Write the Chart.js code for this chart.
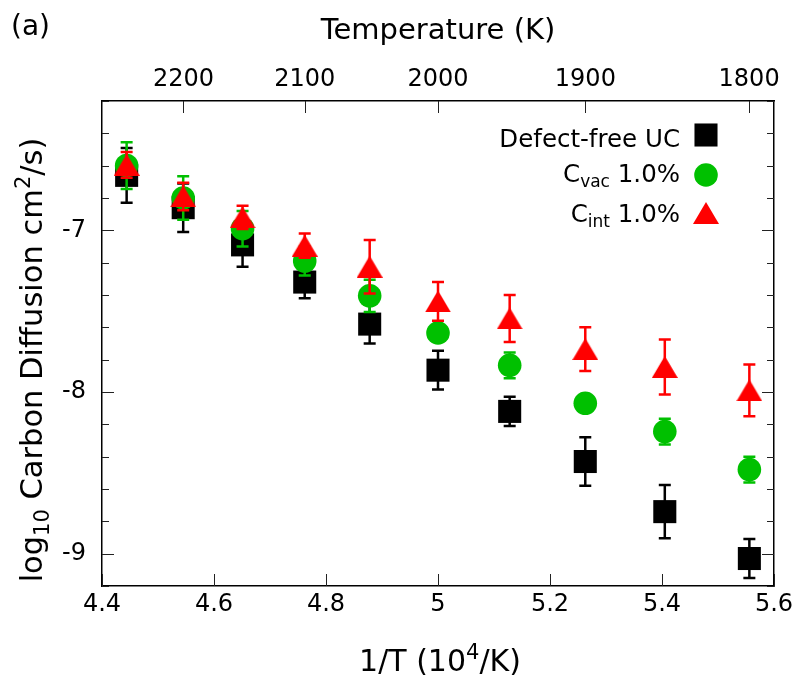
<!DOCTYPE html>
<html>
<head>
<meta charset="utf-8">
<script src="https://cdn.jsdelivr.net/npm/chart.js@4.4.0/dist/chart.umd.min.js"></script>
<style>
  html, body { margin: 0; padding: 0; background: #fff; }
  canvas { display: block; }
</style>
</head>
<body>
<canvas id="chart" width="793" height="683"></canvas>
<script>
// 1/T in 10^4/K (T = 2250 ... 1800 K)
const invT = [4.444, 4.545, 4.651, 4.762, 4.878, 5.0, 5.128, 5.263, 5.405, 5.556];

// log10 D (cm^2/s) and error bars
const freeVals = [-6.66, -6.86, -7.09, -7.32, -7.58, -7.865, -8.12, -8.43, -8.74, -9.03];
const freeErr  = [0.17, 0.15, 0.135, 0.10, 0.12, 0.12, 0.09, 0.15, 0.165, 0.12];
const vacVals  = [-6.60, -6.80, -6.99, -7.19, -7.405, -7.635, -7.835, -8.07, -8.245, -8.48];
const vacErr   = [0.145, 0.135, 0.11, 0.09, 0.10, 0.05, 0.08, 0.04, 0.08, 0.08];
const intVals  = [-6.595, -6.79, -6.92, -7.095, -7.225, -7.44, -7.545, -7.735, -7.845, -7.99];
const intErr   = [0.08, 0.085, 0.072, 0.075, 0.165, 0.12, 0.145, 0.135, 0.17, 0.16];

// ticks
const xTicks = [4.4, 4.6, 4.8, 5.0, 5.2, 5.4, 5.6];
const tempTicks = [2200, 2100, 2000, 1900, 1800];
const yTickLabels = [-9, -8, -7];

const seriesLabels = ['Defect-free UC', 'C_{vac} 1.0%', 'C_{int} 1.0%'];
const xTitle = '1/T (10^{4}/K)';
const yTitle = 'log_{10} Carbon Diffusion cm^{2}/s)';

const FONT = 'DejaVu Sans';
Chart.defaults.font.family = FONT;
Chart.defaults.color = '#000';

// filled triangle centred on its point
const tri = document.createElement('canvas');
tri.width = 26; tri.height = 22;
(function () {
  const c = tri.getContext('2d');
  c.fillStyle = '#ff0000';
  c.beginPath();
  c.moveTo(0, 22); c.lineTo(13, 0); c.lineTo(26, 22);
  c.closePath();
  c.fill();
})();

function pts(vals) {
  return invT.map((x, i) => ({ x: x, y: vals[i] }));
}

// error bars drawn right after each dataset
const errorBars = {
  id: 'errorBars',
  afterDatasetDraw(chart, args) {
    const ds = chart.data.datasets[args.index];
    if (!ds.errors) return;
    const ctx = chart.ctx;
    const ys = chart.scales.y;
    ctx.save();
    ctx.strokeStyle = ds.errColor;
    ctx.lineWidth = 2.5;
    args.meta.data.forEach((p, i) => {
      const v = ds.data[i].y, e = ds.errors[i];
      const t = ys.getPixelForValue(v + e), b = ys.getPixelForValue(v - e);
      ctx.beginPath();
      ctx.moveTo(p.x, t); ctx.lineTo(p.x, b);
      ctx.moveTo(p.x - 6, t); ctx.lineTo(p.x + 6, t);
      ctx.moveTo(p.x - 6, b); ctx.lineTo(p.x + 6, b);
      ctx.stroke();
    });
    ctx.restore();
  }
};

// tick marks pointing into the frame
const innerTicks = {
  id: 'innerTicks',
  afterDraw(chart) {
    const { ctx, chartArea: a, scales } = chart;
    ctx.save();
    ctx.strokeStyle = '#222';
    ctx.lineWidth = 1;
    ctx.beginPath();
    scales.y.ticks.forEach(t => {
      const py = Math.round(scales.y.getPixelForValue(t.value)) + 0.5;
      const major = Math.abs(t.value - Math.round(t.value)) < 1e-6;
      const len = major ? 12 : 7;
      ctx.moveTo(a.left, py); ctx.lineTo(a.left + len, py);
      ctx.moveTo(a.right, py); ctx.lineTo(a.right - len, py);
    });
    scales.x.ticks.forEach(t => {
      const px = Math.round(scales.x.getPixelForValue(t.value)) + 0.5;
      ctx.moveTo(px, a.bottom); ctx.lineTo(px, a.bottom - 12);
    });
    scales.x2.ticks.forEach(t => {
      const px = Math.round(scales.x2.getPixelForValue(t.value)) + 0.5;
      ctx.moveTo(px, a.top); ctx.lineTo(px, a.top + 12);
    });
    ctx.stroke();
    ctx.restore();
  }
};

// text with _{sub} and ^{sup} pieces
function drawRich(ctx, text, x0, base, size, align) {
  const segs = [];
  const re = /([_^])\{([^}]*)\}/g;
  let last = 0, m;
  while ((m = re.exec(text))) {
    if (m.index > last) segs.push({ t: text.slice(last, m.index), k: '' });
    segs.push({ t: m[2], k: m[1] });
    last = re.lastIndex;
  }
  if (last < text.length) segs.push({ t: text.slice(last), k: '' });
  const font = s => (s.k ? Math.round(size * 0.7) : size) + 'px "' + FONT + '"';
  let w = 0;
  segs.forEach(s => { ctx.font = font(s); w += ctx.measureText(s.t).width; });
  let x = align === 'right' ? x0 - w : align === 'center' ? x0 - w / 2 : x0;
  ctx.textAlign = 'left';
  ctx.textBaseline = 'alphabetic';
  segs.forEach(s => {
    ctx.font = font(s);
    const dy = s.k === '_' ? size * 0.22 : s.k === '^' ? -size * 0.4 : 0;
    ctx.fillText(s.t, x, base + dy);
    x += ctx.measureText(s.t).width;
  });
}

// legend, axis titles with sub/superscripts, panel tag
const textLayer = {
  id: 'textLayer',
  afterDraw(chart) {
    const ctx = chart.ctx;
    const a = chart.chartArea;
    const rows = [{ m: 135, b: 147 }, { m: 175, b: 182 }, { m: 213, b: 222 }];
    ctx.save();
    chart.data.datasets.forEach((ds, i) => {
      ctx.fillStyle = '#000';
      drawRich(ctx, seriesLabels[i], 680, rows[i].b, 24.5, 'right');
      ctx.fillStyle = ds.pointBackgroundColor;
      Chart.helpers.drawPoint(ctx, { pointStyle: ds.pointStyle, radius: ds.pointRadius, borderWidth: 0, rotation: 0 }, 706, rows[i].m);
    });
    ctx.fillStyle = '#000';
    drawRich(ctx, xTitle, (a.left + a.right) / 2 + 2, 671, 30, 'center');
    ctx.save();
    ctx.translate(42, 360);
    ctx.rotate(-Math.PI / 2);
    drawRich(ctx, yTitle, 0, 0, 30.5, 'center');
    ctx.restore();
    ctx.font = '28px "' + FONT + '"';
    ctx.textAlign = 'left';
    ctx.textBaseline = 'alphabetic';
    ctx.fillText('(a)', 11, 35);
    ctx.restore();
  }
};

new Chart(document.getElementById('chart'), {
  type: 'scatter',
  data: {
    datasets: [
      {
        label: seriesLabels[0], data: pts(freeVals), errors: freeErr, errColor: '#000',
        pointStyle: 'rect', pointRadius: 16.3, pointHoverRadius: 16.3,
        pointBackgroundColor: '#000', pointBorderWidth: 0, order: 3
      },
      {
        label: seriesLabels[1], data: pts(vacVals), errors: vacErr, errColor: '#00c000',
        pointStyle: 'circle', pointRadius: 11.8, pointHoverRadius: 11.8,
        pointBackgroundColor: '#00c000', pointBorderWidth: 0, order: 2
      },
      {
        label: seriesLabels[2], data: pts(intVals), errors: intErr, errColor: '#ff0000',
        pointStyle: tri, pointRadius: 13, pointHoverRadius: 13,
        pointBackgroundColor: '#ff0000', pointBorderWidth: 0, order: 1
      }
    ]
  },
  options: {
    responsive: false,
    animation: false,
    events: [],
    layout: { padding: 0 },
    plugins: { legend: { display: false }, tooltip: { enabled: false } },
    scales: {
      x: {
        type: 'linear', position: 'bottom', min: 4.4, max: 5.6,
        afterBuildTicks: s => { s.ticks = xTicks.map(v => ({ value: v })); },
        afterFit: s => { s.height = 97; s.paddingLeft = 0; s.paddingRight = 0; },
        ticks: { font: { size: 24 }, color: '#000', padding: 4, autoSkip: false, maxRotation: 0, callback: v => String(v) },
        grid: { display: false, drawTicks: false },
        border: { display: true, color: '#000', width: 1.5 }
      },
      x2: {
        type: 'linear', position: 'top', min: 4.4, max: 5.6,
        afterBuildTicks: s => { s.ticks = tempTicks.map(t => ({ value: 1e4 / t })); },
        afterFit: s => { s.height = 101; s.paddingLeft = 0; s.paddingRight = 0; },
        ticks: { font: { size: 24 }, color: '#000', padding: 7, autoSkip: false, maxRotation: 0, callback: v => String(Math.round(1e4 / v)) },
        grid: { display: false, drawTicks: false },
        border: { display: true, color: '#000', width: 1.5 },
        title: { display: true, text: 'Temperature (K)', font: { size: 29 }, color: '#000', padding: { top: 14, bottom: 0 } }
      },
      y: {
        type: 'linear', position: 'left', min: -9.2, max: -6.2,
        afterFit: s => { s.width = 102; s.paddingTop = 0; s.paddingBottom = 0; },
        ticks: {
          stepSize: 0.2, font: { size: 24 }, color: '#000', padding: 16, autoSkip: false,
          callback: v => {
            const r = Math.round(v);
            return Math.abs(v - r) < 1e-6 && yTickLabels.includes(r) ? String(r) : '';
          }
        },
        grid: { display: false, drawTicks: false },
        border: { display: true, color: '#000', width: 1.5 }
      },
      y2: {
        type: 'linear', position: 'right', min: -9.2, max: -6.2,
        afterFit: s => { s.width = 19; },
        ticks: { display: false },
        grid: { display: false, drawTicks: false },
        border: { display: true, color: '#000', width: 1.5 }
      }
    }
  },
  plugins: [errorBars, innerTicks, textLayer]
});
</script>
</body>
</html>
